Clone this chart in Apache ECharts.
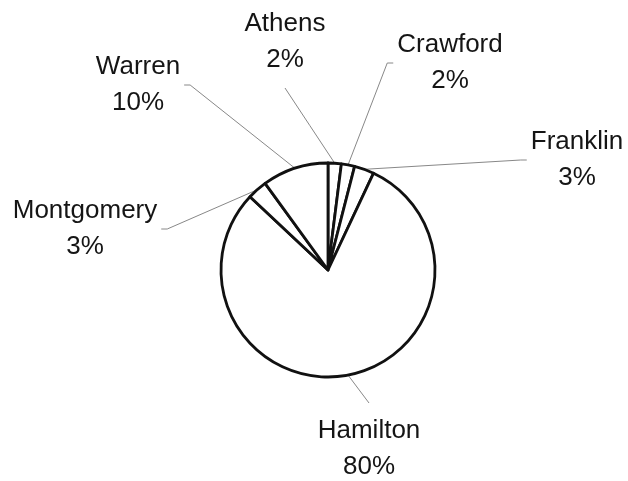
<!DOCTYPE html>
<html><head><meta charset="utf-8">
<script src="https://cdn.jsdelivr.net/npm/echarts@6/dist/echarts.min.js"></script>
<style>html,body{margin:0;padding:0;background:#fff}#c{width:628px;height:481px}</style>
</head><body><div id="c"></div>
<script>
const categories = ['Athens', 'Crawford', 'Franklin', 'Hamilton', 'Montgomery', 'Warren'];
const shares = [2, 2, 3, 80, 3, 10];

// label placement (separate from data)
const labelX = [285, 450, 577, 369, 85, 138];
const labelY = [42, 63, 160, 449, 229, 85];
const labelSide = ['bottom', 'left', 'left', 'top', 'right', 'right'];

const CX = 328, CY = 270, R = 107;
const total = shares.reduce((a, b) => a + b, 0);
const midAngles = [];
let acc = 0;
shares.forEach(v => { midAngles.push((acc + v / 2) / total * 2 * Math.PI); acc += v; });

const chart = echarts.init(document.getElementById('c'), null, { renderer: 'canvas' });
chart.setOption({
  backgroundColor: '#fff',
  animation: false,
  series: [{
    type: 'pie',
    center: [CX, CY],
    radius: R,
    startAngle: 90,
    clockwise: true,
    avoidLabelOverlap: false,
    percentPrecision: 0,
    itemStyle: { color: '#fff', borderColor: '#111', borderWidth: 2.8 },
    emphasis: { disabled: true },
    label: {
      show: true,
      position: 'outside',
      formatter: '{b}\n{d}%',
      fontFamily: '"Liberation Sans", Arial, sans-serif',
      fontSize: 26,
      lineHeight: 36,
      color: '#151515'
    },
    labelLine: { show: true, length: 10, length2: 10, lineStyle: { color: '#888', width: 1 } },
    labelLayout: function (p) {
      const i = p.dataIndex;
      const a = midAngles[i];
      const e = [CX + R * Math.sin(a), CY - R * Math.cos(a)];
      const w = p.labelRect.width, h = p.labelRect.height;
      const x = labelX[i], y = labelY[i];
      let end, hook;
      switch (labelSide[i]) {
        case 'bottom': end = [x, y + h / 2 + 10]; hook = [(e[0] + end[0]) / 2, (e[1] + end[1]) / 2]; break;
        case 'top': end = [x, y - h / 2 - 10]; hook = [(e[0] + end[0]) / 2, (e[1] + end[1]) / 2]; break;
        case 'left': end = [x - w / 2 - 4, y]; hook = [end[0] - 6, y]; break;
        default: end = [x + w / 2 + 4, y]; hook = [end[0] + 6, y];
      }
      return { x: x, y: y, align: 'center', verticalAlign: 'middle', labelLinePoints: [e, hook, end] };
    },
    data: categories.map((n, i) => ({ name: n, value: shares[i] }))
  }]
});
</script>
</body></html>
